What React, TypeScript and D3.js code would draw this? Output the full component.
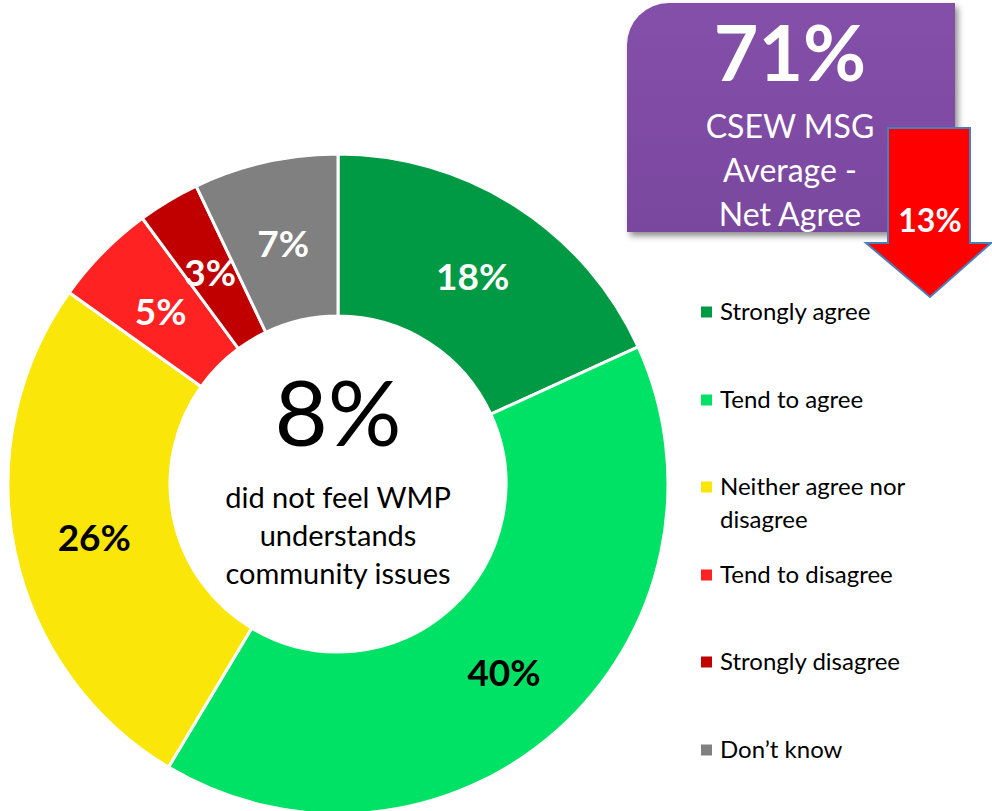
import React from "react";
import * as d3 from "d3";

// Donut data
const categories = [
  "Strongly agree",
  "Tend to agree",
  "Neither agree nor disagree",
  "Tend to disagree",
  "Strongly disagree",
  "Don’t know",
];
const values = [18, 40, 26, 5, 3, 7];
const sliceColors = ["#009A44", "#00E265", "#FAE608", "#FF2222", "#C00000", "#808080"];
const labelColors = ["#fff", "#000", "#000", "#fff", "#fff", "#fff"];
const legendLines = [
  ["Strongly agree"],
  ["Tend to agree"],
  ["Neither agree nor", "disagree"],
  ["Tend to disagree"],
  ["Strongly disagree"],
  ["Don’t know"],
];
const legendRows = [312, 400, 487, 575, 662, 750];

// Callouts
const centerPct = "8%";
const centerText = ["did not feel WMP", "understands", "community issues"];
const boxPct = "71%";
const boxText = ["CSEW MSG", "Average -", "Net Agree"];
const arrowPct = "13%";

const FONT = "Lato, 'Open Sans', sans-serif";

const App: React.FC = () => {
  const width = 992;
  const height = 811;
  const cx = 338;
  const cy = 484;
  const outerR = 330;
  const innerR = 168;

  const pie = d3
    .pie<number>()
    .sort(null)
    .value((d) => d);
  const arcs = pie(values);

  const arc = d3
    .arc<d3.PieArcDatum<number>>()
    .innerRadius(innerR)
    .outerRadius(outerR);

  const labelArc = d3
    .arc<d3.PieArcDatum<number>>()
    .innerRadius((innerR + outerR) / 2)
    .outerRadius((innerR + outerR) / 2);

  // purple box with a rounded top-left corner
  const bx = 627, by = 3, bw = 328, bh = 229, br = 42;
  const boxPath = `M${bx},${by + br} A${br},${br} 0 0 1 ${bx + br},${by} L${bx + bw},${by} L${bx + bw},${by + bh} L${bx},${by + bh} Z`;

  // down arrow
  const arrowPath = "M888,128 L970,128 L970,243 L991,243 L930,297 L866,243 L888,243 Z";

  return (
    <svg
      width={width}
      height={height}
      style={{ position: "absolute", left: 0, top: 0, background: "#fff" }}
      fontFamily={FONT}
    >
      <defs>
        <linearGradient id="boxGrad" x1="0" y1="0" x2="0" y2="1">
          <stop offset="0%" stopColor="#8450A9" />
          <stop offset="100%" stopColor="#7A479F" />
        </linearGradient>
        <filter id="shadow" x="-10%" y="-10%" width="130%" height="130%">
          <feDropShadow dx="3" dy="4" stdDeviation="3" floodColor="#000" floodOpacity="0.45" />
        </filter>
      </defs>

      <g transform={`translate(${cx},${cy})`}>
        {arcs.map((a, i) => (
          <path key={i} d={arc(a) || ""} fill={sliceColors[i]} stroke="#fff" strokeWidth={3} />
        ))}
        {arcs.map((a, i) => {
          const [x, y] = labelArc.centroid(a);
          return (
            <text
              key={"l" + i}
              x={x}
              y={y + 3}
              dy="0.35em"
              textAnchor="middle"
              fontWeight="bold"
              fontSize={37}
              fill={labelColors[i]}
            >
              {values[i]}%
            </text>
          );
        })}
        <text x={0} y={-38} textAnchor="middle" fontSize={92} fill="#000">
          {centerPct}
        </text>
        {centerText.map((t, i) => (
          <text key={t} x={0} y={24 + i * 38} textAnchor="middle" fontSize={29} fill="#000">
            {t}
          </text>
        ))}
      </g>

      {/* Purple callout */}
      <path d={boxPath} fill="url(#boxGrad)" filter="url(#shadow)" />
      <text x={790} y={81} textAnchor="middle" fontSize={77} fontWeight="bold" fill="#fff">
        {boxPct}
      </text>
      {boxText.map((t, i) => (
        <text key={t} x={790} y={138 + i * 44} textAnchor="middle" fontSize={32} fill="#fff">
          {t}
        </text>
      ))}

      {/* Red arrow */}
      <path d={arrowPath} fill="#FF0000" stroke="#4A7EBB" strokeWidth={2} strokeLinejoin="miter" />
      <text x={930} y={232} textAnchor="middle" fontSize={32} fontWeight="bold" fill="#fff">
        {arrowPct}
      </text>

      {/* Legend */}
      {categories.map((c, i) => (
        <g key={c} transform={`translate(701,${legendRows[i]})`}>
          <rect x={0} y={-5.5} width={11} height={11} fill={sliceColors[i]} />
          {legendLines[i].map((t, j) => (
            <text key={t} x={19} y={j * 33} dy="0.35em" fontSize={24} fill="#000">
              {t}
            </text>
          ))}
        </g>
      ))}
    </svg>
  );
};

export default App;
